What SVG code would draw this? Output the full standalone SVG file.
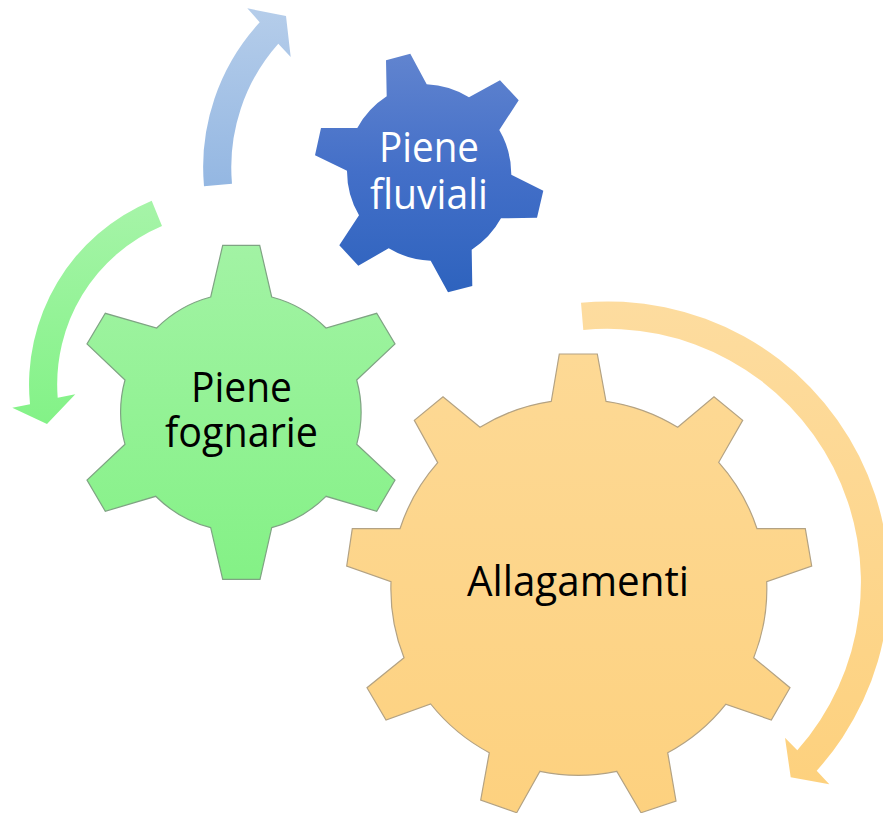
<svg xmlns="http://www.w3.org/2000/svg" width="883" height="813" viewBox="0 0 883 813">
<style>
text{font-family:"Open Sans","Noto Sans","Liberation Sans",sans-serif;font-size:42px;text-anchor:start}
.dark{fill:#000}.light{fill:#fff}
.gs{stroke-width:1.2;stroke-linejoin:miter}
</style>
<defs>
<linearGradient id="gb" x1="0" y1="0" x2="0" y2="1"><stop offset="0" stop-color="#6184CF"/><stop offset=".5" stop-color="#436FC8"/><stop offset="1" stop-color="#2E63BE"/></linearGradient>
<linearGradient id="gg" x1="0" y1="0" x2="0" y2="1"><stop offset="0" stop-color="#A2F3A4"/><stop offset="1" stop-color="#84F186"/></linearGradient>
<linearGradient id="go" x1="0" y1="0" x2="0" y2="1"><stop offset="0" stop-color="#FDD995"/><stop offset="1" stop-color="#FDD17F"/></linearGradient>
<linearGradient id="ab" x1="0" y1="0" x2="0" y2="1"><stop offset="0" stop-color="#B5CDEA"/><stop offset="1" stop-color="#94B7E2"/></linearGradient>
<linearGradient id="ag" x1="0" y1="0" x2="0" y2="1"><stop offset="0" stop-color="#A6F4A8"/><stop offset="1" stop-color="#83F287"/></linearGradient>
<linearGradient id="ao" x1="0" y1="0" x2="0" y2="1"><stop offset="0" stop-color="#FDDC9F"/><stop offset="1" stop-color="#FDD17E"/></linearGradient>
</defs>
<rect width="883" height="813" fill="#fff"/>
<g id="connectors">
<path fill="url(#ab)" d="M204 186.3A214 214 0 0 1 259.7 22.3L247.3 8.3L286 16L290.7 57L278.3 43.7A186 186 0 0 0 232 183.7Z"/>
<path fill="url(#ag)" d="M151.7 200.7A199.5 199.5 0 0 0 30 404.3L12.3 407.7L47 424L75.3 394.3L57.7 397.7A172 172 0 0 1 162 226Z"/>
<path fill="url(#ao)" d="M581 302.7A281 281 0 0 1 816.7 770.7L829.3 784.3L790.7 777.3L785 737.7L797.3 750.3A253.5 253.5 0 0 0 583.3 330Z"/>
</g>
<g id="node-piene-fluviali">
<path fill="url(#gb)" d="M386 60.3L410.3 53.7L426.7 84.3A88 88 0 0 1 469 97.3L500 80.3L518.7 100.3L499.3 130A88 88 0 0 1 511.3 174.7L543.3 190.7L537 217.7L501 218.3A88 88 0 0 1 471.7 249.7L472.3 286L448 292.3L430.7 260.7A88 88 0 0 1 388.7 248.3L358.3 265.7L339.3 245.3L359 215.3A88 88 0 0 1 347 170.7L315 155.3L321 128L357.3 128A88 88 0 0 1 386.7 96.3Z"/>
<text class="light" x="379" y="162" textLength="100" lengthAdjust="spacingAndGlyphs">Piene</text>
<text class="light" x="370" y="209.3" textLength="118" lengthAdjust="spacingAndGlyphs">fluviali</text>
</g>
<g id="node-piene-fognarie">
<path class="gs" fill="url(#gg)" stroke="#7FA383" d="M222.7 245.3L259.7 245.3L271.7 297A121 121 0 0 1 326 328L376.7 313.3L395 344L356.7 380A121 121 0 0 1 356.7 444.3L395 480L376.7 511.3L326 496.3A121 121 0 0 1 271.7 527.7L260 579.3L222.7 579.3L210.7 527.7A121 121 0 0 1 155.7 496.3L105.3 511.3L87 480L125 444.3A121 121 0 0 1 125 380L87 344L105.3 313.3L156.7 328A121 121 0 0 1 210.7 297Z"/>
<text class="dark" x="191" y="401.7" textLength="101" lengthAdjust="spacingAndGlyphs">Piene</text>
<text class="dark" x="165" y="446.7" textLength="153" lengthAdjust="spacingAndGlyphs">fognarie</text>
</g>
<g id="node-allagamenti">
<path class="gs" fill="url(#go)" stroke="#B3A283" d="M559.3 354L597.3 354L606 401.3A188 188 0 0 1 677.7 427.3L714 396.7L742.7 420.3L718.7 462.3A188 188 0 0 1 757 528.7L805.3 528.7L811.7 566L766.7 581.7A188 188 0 0 1 753.7 657.7L790 687.7L771.3 720L725.7 704.3A188 188 0 0 1 667.7 752.7L676 801L641 812.7L616.7 771.3A188 188 0 0 1 540 771.3L516.7 812.7L480.7 800L489.3 752.7A188 188 0 0 1 430.7 704L386 720L367 687.7L404 657.7A188 188 0 0 1 391 581.7L346.7 566L352.3 528.7L400 528.7A188 188 0 0 1 437.7 462.7L414.3 420.3L443 396.7L480 427.3A188 188 0 0 1 551.3 401.3Z"/>
<text class="dark" x="467" y="596" textLength="222" lengthAdjust="spacingAndGlyphs">Allagamenti</text>
</g>
</svg>
